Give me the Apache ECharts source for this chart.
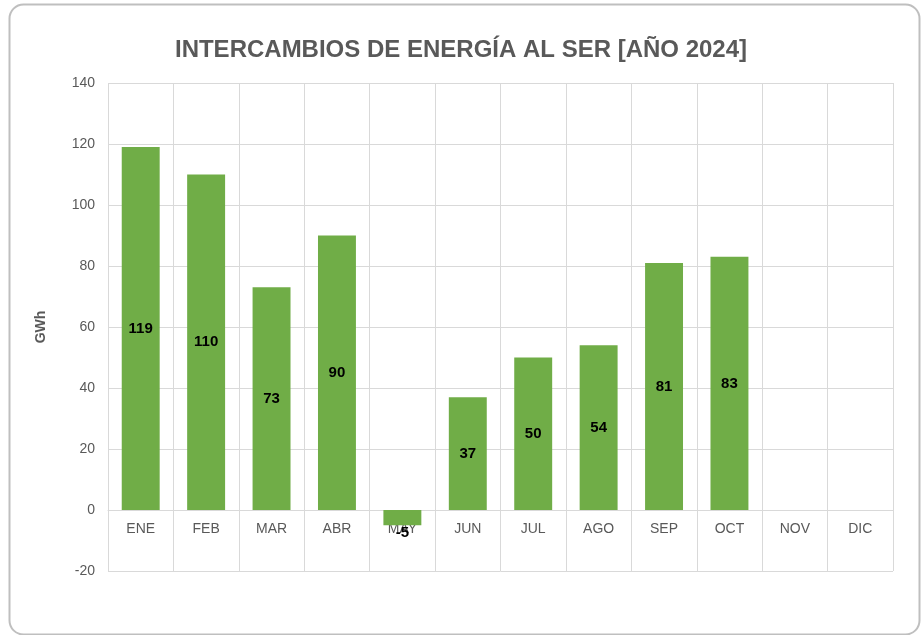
<!DOCTYPE html>
<html>
<head>
<meta charset="utf-8">
<script src="https://cdn.jsdelivr.net/npm/echarts@6/dist/echarts.min.js"></script>
<style>
  html, body { margin: 0; padding: 0; background: #fff; }
  #chart { width: 922px; height: 635px; }
</style>
</head>
<body>
<div id="chart"></div>
<script>
const months = ['ENE', 'FEB', 'MAR', 'ABR', 'MAY', 'JUN', 'JUL', 'AGO', 'SEP', 'OCT', 'NOV', 'DIC'];
const exchanges = [119, 110, 73, 90, -5, 37, 50, 54, 81, 83, null, null];

const font = '"Liberation Sans", Arial, sans-serif';
const gray = '#595959';
const gridColor = '#d9d9d9';
const green = '#70ad47';

const chart = echarts.init(document.getElementById('chart'), null, { renderer: 'canvas' });

chart.setOption({
  backgroundColor: '#fff',
  animation: false,
  title: {
    text: 'INTERCAMBIOS DE ENERGÍA AL SER [AÑO 2024]',
    left: 'center', top: 33,
    textStyle: { color: gray, fontSize: 24, fontWeight: 'bold', fontFamily: font }
  },
  graphic: [{
    type: 'rect', left: 7, top: 2, silent: true,
    shape: { width: 910, height: 630, r: 14 },
    style: { fill: 'none', stroke: '#bfbfbf', lineWidth: 2 }
  }],
  grid: { left: 108, right: 29, top: 83, bottom: 64 },
  xAxis: {
    type: 'category',
    data: months,
    position: 'bottom',
    offset: -61,
    axisLine: { onZero: false, lineStyle: { color: gridColor } },
    axisTick: { show: false },
    axisLabel: { color: gray, fontSize: 14, fontFamily: font, margin: 12 },
    splitLine: { show: true, lineStyle: { color: gridColor } }
  },
  yAxis: {
    type: 'value',
    min: -20, max: 140, interval: 20,
    name: 'GWh', nameLocation: 'middle', nameGap: 60,
    nameTextStyle: { color: gray, fontSize: 14, fontWeight: 'bold', fontFamily: font },
    axisLine: { show: false },
    axisTick: { show: false },
    axisLabel: { color: gray, fontSize: 14, fontFamily: font, margin: 13 },
    splitLine: { lineStyle: { color: gridColor } }
  },
  series: [{
    type: 'bar',
    barWidth: '58%',
    data: exchanges.map(v => v === null ? null : (v < 0
      ? { value: v, label: { position: 'bottom', distance: 0 } }
      : v)),
    itemStyle: { color: green },
    label: {
      show: true, position: 'inside',
      color: '#000', fontSize: 15, fontWeight: 'bold', fontFamily: font
    }
  }]
});
</script>
</body>
</html>
